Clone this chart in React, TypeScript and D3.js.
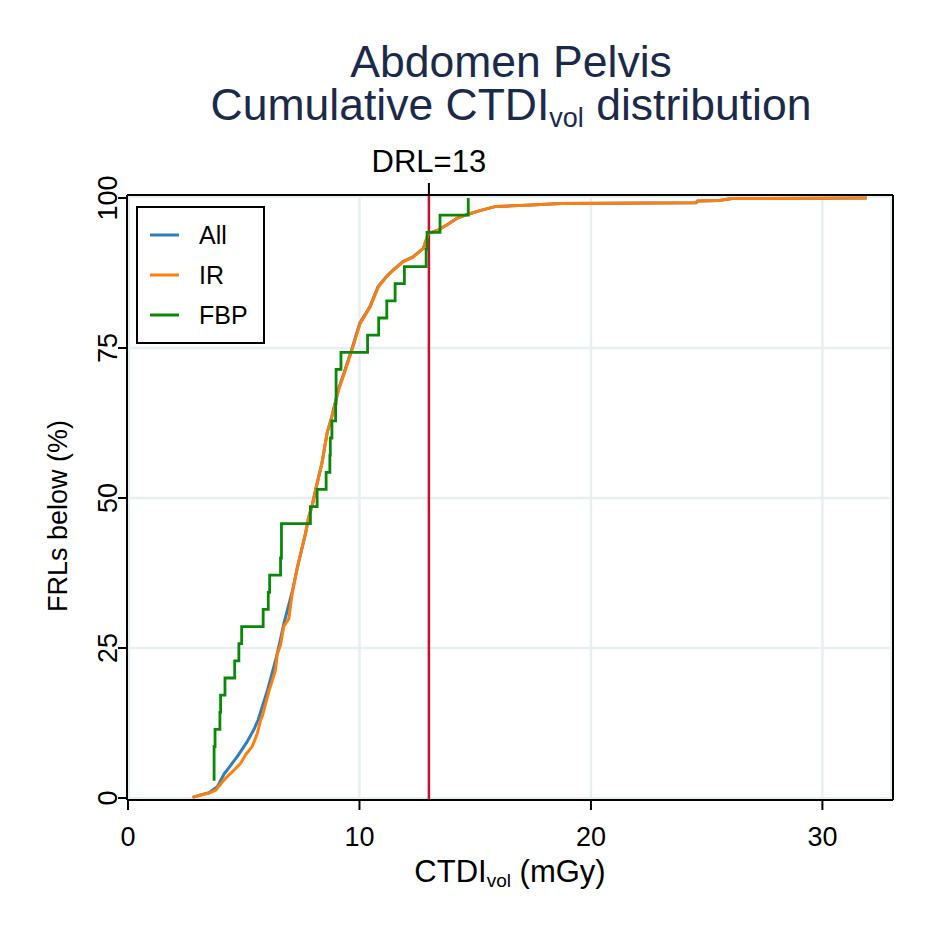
import React from 'react';
import * as d3 from 'd3';

// FBP: sorted CTDIvol values (mGy)
const fbpCTDI = [3.72, 3.72, 3.72, 3.76, 3.97, 4.0, 4.19, 4.61, 4.79, 4.91, 5.84, 6.06, 6.12, 6.59, 6.63, 6.63, 7.88, 8.17, 8.56, 8.72, 8.74, 8.81, 8.97, 8.99, 8.99, 9.2, 10.35, 10.83, 11.18, 11.54, 11.94, 12.88, 12.92, 13.48, 14.7];

// IR cumulative curve (CTDIvol, % below)
const irCTDI = [2.79, 3.14, 3.5, 3.79, 4.08, 4.29, 4.44, 4.72, 4.87, 5.08, 5.37, 5.59, 5.73, 5.8, 6.09, 6.37, 6.45, 6.59, 6.73, 6.95, 7.09, 7.31, 7.67, 7.81, 7.95, 8.1, 8.38, 8.6, 8.81, 9.1, 9.39, 9.68, 10.03, 10.47, 10.82, 11.18, 11.47, 11.9, 12.33, 12.76, 12.98, 13.41, 13.77, 14.2, 14.7, 15.2, 15.9, 16.6, 17.2, 18.7, 24.55, 24.6, 25.54, 26.09, 31.91];
const irPct = [0.1, 0.5, 0.8, 1.3, 2.7, 3.6, 4.1, 5.2, 5.8, 7.2, 8.6, 10.8, 13.0, 13.6, 17.8, 21.3, 24.0, 25.5, 28.6, 29.9, 34.0, 38.3, 44.1, 46.9, 48.6, 51.3, 55.8, 60.8, 63.6, 68.0, 71.3, 74.7, 79.1, 81.9, 85.2, 86.9, 88.0, 89.4, 90.2, 91.6, 94.1, 94.7, 95.5, 96.6, 97.3, 97.9, 98.6, 98.7, 98.8, 99.1, 99.2, 99.5, 99.6, 99.9, 100];

// All cumulative curve (CTDIvol, % below)
const allCTDI = [2.79, 3.14, 3.5, 3.86, 4.15, 4.29, 4.72, 5.15, 5.45, 5.62, 6.03, 6.38, 6.55, 6.73, 7.09, 7.31, 7.67, 7.81, 7.95, 8.1, 8.38, 8.6, 8.81, 9.08, 9.37, 9.66, 10.01, 10.45, 10.8, 11.16, 11.45, 11.88, 12.31, 12.76, 12.98, 13.41, 13.77, 14.2, 14.7, 15.2, 15.9, 16.6, 17.2, 18.7, 24.55, 24.6, 25.54, 26.09, 31.91];
const allPct = [0.1, 0.5, 0.9, 1.9, 4.0, 4.7, 6.9, 9.4, 11.5, 13.0, 18.0, 23.0, 25.8, 29.0, 34.3, 38.3, 44.1, 46.9, 48.6, 51.3, 55.8, 60.8, 63.6, 68.0, 71.3, 74.7, 79.1, 81.9, 85.2, 86.9, 88.0, 89.4, 90.2, 91.6, 94.1, 94.7, 95.5, 96.6, 97.3, 97.9, 98.6, 98.7, 98.8, 99.1, 99.2, 99.5, 99.6, 99.9, 100];

const xTicks = [0, 10, 20, 30];
const yTicks = [0, 25, 50, 75, 100];
const drlValue = 13;
const seriesNames = ['All', 'IR', 'FBP'];
const seriesColors = ['#2e7ebc', '#ff7f0e', '#0b870b'];

const FONT = 'Liberation Sans, Arial, Helvetica, sans-serif';

export default function App() {
  const left = 127, right = 893, top = 195, bottom = 800;
  const x = d3.scaleLinear().domain([0, 33.05]).range([128, right]);
  const y = d3.scaleLinear().domain([0, 100]).range([798, 198]);

  const fbpPct = fbpCTDI.map((_, i) => ((i + 1) / fbpCTDI.length) * 100);
  const fbpPts: [number, number][] = fbpCTDI.map((v, i) => [v, fbpPct[i]]);
  const irPts: [number, number][] = irCTDI.map((v, i) => [v, irPct[i]]);
  const allPts: [number, number][] = allCTDI.map((v, i) => [v, allPct[i]]);

  const lin = d3.line<[number, number]>().x(d => x(d[0])).y(d => y(d[1])).curve(d3.curveLinear);
  const step = d3.line<[number, number]>().x(d => x(d[0])).y(d => y(d[1])).curve(d3.curveStepAfter);

  const grid = '#e7eff1';
  const drlX = x(drlValue);

  return (
    <svg width={927} height={927} style={{ position: 'absolute', left: 0, top: 0, background: '#fff' }} fontFamily={FONT}>
      <rect x={0} y={0} width={927} height={927} fill="#fff" />
      {/* title */}
      <text x={511} y={77} textAnchor="middle" fontSize={44.5} fill="#1c2a4a">Abdomen Pelvis</text>
      <text x={511} y={120} textAnchor="middle" fontSize={44.5} fill="#1c2a4a">
        Cumulative CTDI<tspan fontSize={27} dy={7}>vol</tspan><tspan dy={-7}> distribution</tspan>
      </text>

      {/* plot region border and grid */}
      <rect x={left + 2} y={top + 2} width={right - left - 4} height={bottom - top - 4} fill="none" stroke={grid} strokeWidth={2} />
      {yTicks.filter(t => t > 0 && t < 100).map(t => (
        <line key={'gy' + t} x1={left} x2={right} y1={y(t)} y2={y(t)} stroke={grid} strokeWidth={2.5} />
      ))}
      {xTicks.filter(t => t > 0).map(t => (
        <line key={'gx' + t} x1={x(t)} x2={x(t)} y1={top} y2={bottom} stroke={grid} strokeWidth={2.5} />
      ))}

      {/* DRL line */}
      <line x1={drlX} x2={drlX} y1={top} y2={bottom} stroke="#c8102e" strokeWidth={2.5} />

      {/* curves */}
      <path d={lin(allPts) || ''} fill="none" stroke={seriesColors[0]} strokeWidth={3} strokeLinejoin="round" />
      <path d={lin(irPts) || ''} fill="none" stroke={seriesColors[1]} strokeWidth={3} strokeLinejoin="round" />
      <path d={step(fbpPts) || ''} fill="none" stroke={seriesColors[2]} strokeWidth={2.8} />

      {/* frame */}
      <line x1={left} x2={right} y1={top} y2={top} stroke="#000" strokeWidth={2} />
      <line x1={right} x2={right} y1={top} y2={bottom} stroke="#000" strokeWidth={2} />
      <line x1={left} x2={left} y1={top} y2={bottom} stroke="#000" strokeWidth={2} />
      <line x1={left} x2={right} y1={bottom} y2={bottom} stroke="#000" strokeWidth={2} />

      {/* y axis ticks and labels */}
      {yTicks.map(t => (
        <g key={'yt' + t}>
          <line x1={left - 9} x2={left} y1={y(t)} y2={y(t)} stroke="#000" strokeWidth={2} />
          <text transform={`translate(117,${y(t)}) rotate(-90)`} textAnchor="middle" fontSize={27} fill="#000">{t}</text>
        </g>
      ))}
      <text transform={`translate(67,${(y(0) + y(100)) / 2 + 18}) rotate(-90)`} textAnchor="middle" fontSize={27} fill="#000">FRLs below (%)</text>

      {/* x axis ticks and labels */}
      {xTicks.map(t => (
        <g key={'xt' + t}>
          <line x1={x(t)} x2={x(t)} y1={bottom} y2={bottom + 10} stroke="#000" strokeWidth={2} />
          <text x={x(t)} y={846} textAnchor="middle" fontSize={27} fill="#000">{t}</text>
        </g>
      ))}
      <text x={510} y={882} textAnchor="middle" fontSize={31} fill="#000">
        CTDI<tspan fontSize={19} dy={5}>vol</tspan><tspan dy={-5}> (mGy)</tspan>
      </text>

      {/* top DRL tick */}
      <line x1={drlX} x2={drlX} y1={top - 12} y2={top} stroke="#000" strokeWidth={2} />
      <text x={drlX} y={172} textAnchor="middle" fontSize={31} fill="#000">{'DRL=' + drlValue}</text>

      {/* legend */}
      <rect x={137} y={207} width={127} height={136} fill="#fff" stroke="#000" strokeWidth={2} />
      {seriesNames.map((n, i) => {
        const ly = 235 + i * 40;
        return (
          <g key={n}>
            <line x1={150} x2={179} y1={ly} y2={ly} stroke={seriesColors[i]} strokeWidth={3} />
            <text x={199} y={ly + 9} fontSize={25} fill="#000">{n}</text>
          </g>
        );
      })}
    </svg>
  );
}
